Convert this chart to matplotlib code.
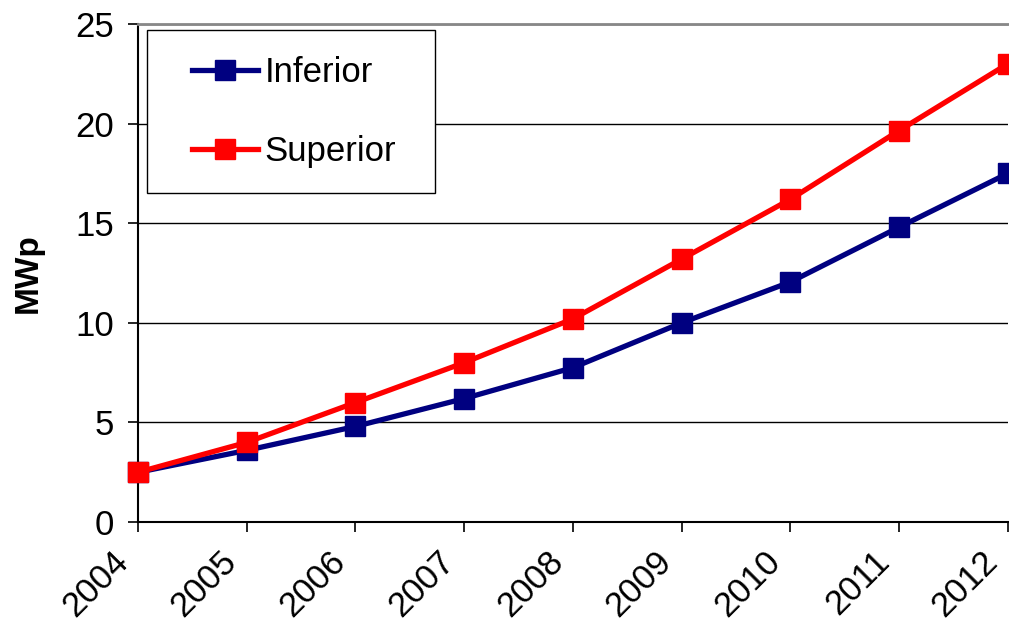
import matplotlib.pyplot as plt
import matplotlib.transforms as mtransforms
from matplotlib.patches import Rectangle

years = [2004, 2005, 2006, 2007, 2008, 2009, 2010, 2011, 2012]
inferior = [2.5, 3.6, 4.8, 6.2, 7.75, 10.0, 12.05, 14.8, 17.5]
superior = [2.5, 4.0, 6.0, 8.0, 10.2, 13.2, 16.2, 19.65, 23.0]

plt.rcParams['font.family'] = ['Liberation Sans', 'DejaVu Sans']

fig = plt.figure(figsize=(10.09, 6.23), dpi=100)
ax = fig.add_axes([0.1368, 0.162, 0.862, 0.7995])

ax.plot(years, inferior, color='#000080', lw=3.8, marker='s', ms=14,
        label='Inferior', clip_on=False, zorder=3)
ax.plot(years, superior, color='#ff0000', lw=3.8, marker='s', ms=14,
        label='Superior', clip_on=False, zorder=4)

ax.set_xlim(2004, 2012)
ax.set_ylim(0, 25)
ax.set_yticks([0, 5, 10, 15, 20, 25])
ax.set_xticks(years)
ax.set_xticklabels([str(y) for y in years], rotation=45, ha='right', va='center',
                   rotation_mode='anchor')
ax.tick_params(axis='both', labelsize=25, length=7.5, width=1.2, color='black')
ax.tick_params(axis='x', pad=17)
ax.tick_params(axis='y', pad=10)
# shift x labels a bit to the left like the original
off = mtransforms.ScaledTranslation(-15 / 100, 0, fig.dpi_scale_trans)
for lab in ax.get_xticklabels():
    lab.set_transform(lab.get_transform() + off)

ax.yaxis.grid(True, color='black', lw=1)
ax.set_axisbelow(True)

ax.spines['right'].set_visible(False)
ax.spines['top'].set_color('#888888')
ax.spines['top'].set_linewidth(2)
ax.spines['left'].set_linewidth(1.5)
ax.spines['bottom'].set_linewidth(1.5)

ax.set_ylabel('MWp', fontsize=24, fontweight='bold')
ax.yaxis.set_label_coords(-0.108, 0.5)

# legend box
box = Rectangle((0.0103, 0.661), 0.331, 0.327, transform=ax.transAxes,
                facecolor='white', edgecolor='black', lw=1, zorder=5)
ax.add_patch(box)
leg = ax.legend(loc='upper left', bbox_to_anchor=(0.062, 0.936), fontsize=25,
                frameon=False, borderpad=0, labelspacing=1.33, handlelength=1.9,
                handletextpad=0.2, borderaxespad=0)
leg.set_zorder(6)

fig.savefig('out.png', dpi=100)
